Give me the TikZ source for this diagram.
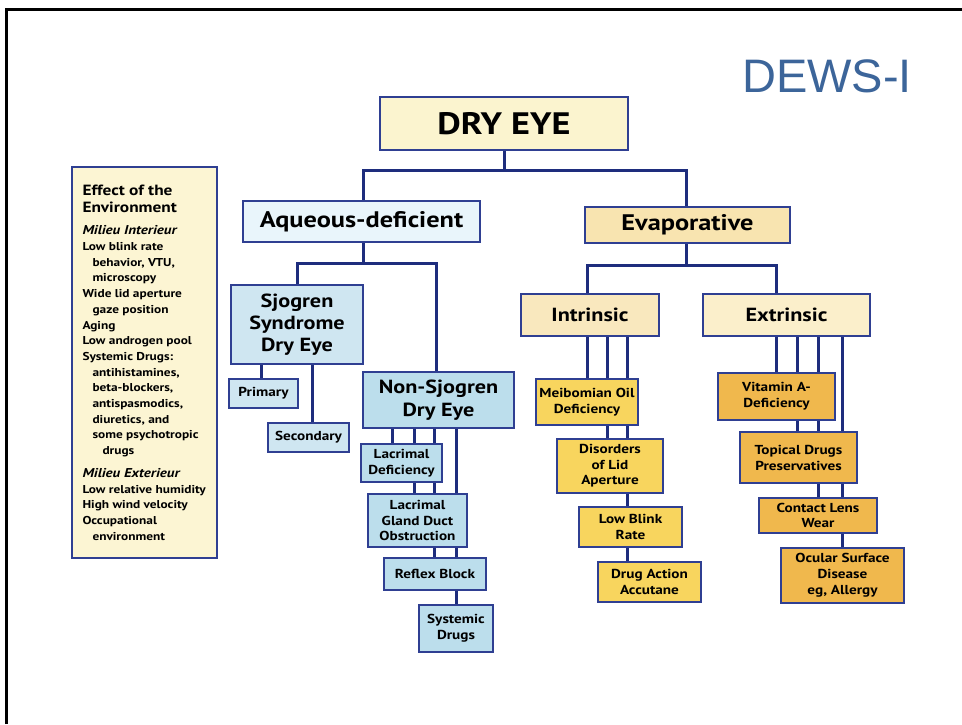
\documentclass[tikz,border=0pt]{standalone}
\usepackage{fontspec}
\setsansfont{PT Sans}[FakeStretch=1.17]
\newfontfamily\dewsfont{Liberation Sans}
\usetikzlibrary{calc}
\pgfdeclarelayer{background}
\pgfsetlayers{background,main}
\definecolor{bord}{HTML}{2F3F92}
\definecolor{conncol}{HTML}{1E2D7D}
\definecolor{dryfill}{HTML}{FBF4CF}
\definecolor{aqfill}{HTML}{E9F5FB}
\definecolor{sjfill}{HTML}{CFE6F1}
\definecolor{bluefill}{HTML}{BCDEEC}
\definecolor{evapfill}{HTML}{F8E4B0}
\definecolor{intrfill}{HTML}{F9E8BE}
\definecolor{extrfill}{HTML}{FBEFCB}
\definecolor{yelfill}{HTML}{F8D55E}
\definecolor{orfill}{HTML}{F0B84D}
\definecolor{envfill}{HTML}{FCF5D3}
\definecolor{dewsblue}{HTML}{3C659A}
\tikzset{
  box/.style={draw=bord, line width=1.4pt, inner sep=0pt, align=center, text=black},
  fs/.style 2 args={font=\sffamily\bfseries\fontsize{#1}{#2}\selectfont},
  conn/.style={draw=conncol, line width=3pt},
}
\begin{document}
\begin{tikzpicture}[x=1pt,y=-1pt]
\useasboundingbox (0,0) rectangle (962,724);
\draw[line width=3pt] (6,724) -- (6,9) -- (962,9);

\node[anchor=base west, text=dewsblue, inner sep=0pt, font=\dewsfont\fontsize{47}{50}\selectfont] (dews) at (742,92) {DEWS-I};

% top levels
\node[box, fill=dryfill, minimum width=248, minimum height=53, fs={31}{36}] (dry) at (504,123.5) {DRY EYE};
\node[box, fill=aqfill, minimum width=237, minimum height=41, fs={22.5}{26}] (aq) at (361.5,221.5) {Aqueous-deficient};
\node[box, fill=evapfill, minimum width=205, minimum height=36, fs={22.5}{26}] (evap) at (687.5,225) {Evaporative};

% aqueous branch
\node[box, fill=sjfill, minimum width=132, minimum height=79, fs={19}{22}] (sj) at (297,324.5) {Sjogren\\Syndrome\\Dry Eye};
\node[box, fill=sjfill, minimum width=69, minimum height=29, fs={13}{16}] (prim) at (263.5,393.5) {Primary};
\node[box, fill=sjfill, minimum width=81, minimum height=29, fs={13}{16}] (sec) at (308.5,437.5) {Secondary};
\node[box, fill=bluefill, minimum width=151, minimum height=56, fs={19}{23}] (nonsj) at (438.5,400) {Non-Sjogren\\Dry Eye};
\node[box, fill=bluefill, minimum width=81, minimum height=38, fs={13}{15.5}] (ld) at (401.5,463) {Lacrimal\\Deficiency};
\node[box, fill=bluefill, minimum width=99, minimum height=53, fs={13}{15.5}] (lgdo) at (417.5,520.5) {Lacrimal\\Gland Duct\\Obstruction};
\node[box, fill=bluefill, minimum width=102, minimum height=32, fs={13}{16}] (rb) at (435,574) {Reflex Block};
\node[box, fill=bluefill, minimum width=74, minimum height=47, fs={13}{16}] (sd) at (456,628.5) {Systemic\\Drugs};

% evaporative branch
\node[box, fill=intrfill, minimum width=138, minimum height=42, fs={19}{22}] (intr) at (590,315) {Intrinsic};
\node[box, fill=extrfill, minimum width=167, minimum height=42, fs={19}{22}] (extr) at (786.5,315) {Extrinsic};
\node[box, fill=yelfill, minimum width=102, minimum height=46, fs={13}{16}] (meib) at (587,402) {Meibomian Oil\\Deficiency};
\node[box, fill=yelfill, minimum width=106, minimum height=54, fs={13}{15.5}] (dis) at (610,466) {Disorders\\of Lid\\Aperture};
\node[box, fill=yelfill, minimum width=103, minimum height=40, fs={13}{16}] (lbr) at (630.5,527) {Low Blink\\Rate};
\node[box, fill=yelfill, minimum width=103, minimum height=40, fs={13}{16}] (drug) at (649.5,582) {Drug Action\\Accutane};
\node[box, fill=orfill, minimum width=117, minimum height=47, fs={13}{16}] (vit) at (776.5,396.5) {Vitamin A-\\Deficiency};
\node[box, fill=orfill, minimum width=117, minimum height=51, fs={13}{16}] (topd) at (798.5,457.5) {Topical Drugs\\Preservatives};
\node[box, fill=orfill, minimum width=118, minimum height=35, fs={13}{15}] (cl) at (818,515.5) {Contact Lens\\Wear};
\node[box, fill=orfill, minimum width=123, minimum height=55, fs={13}{16}] (osd) at (842.5,575.5) {Ocular Surface\\Disease\\eg, Allergy};

% environment box
\node[box, fill=envfill, minimum width=145, minimum height=391, align=left] (env) at (144.5,362.5) {%
\begin{minipage}{124pt}\sffamily\bfseries\raggedright
{\fontsize{14.8}{17}\selectfont Effect of the\\Environment\par}
\vspace{7pt}
\fontsize{11.4}{15.7}\selectfont
{\itshape\fontsize{12.8}{15.7}\selectfont Milieu Interieur\par}
Low blink rate\\
\hspace*{10pt}behavior, VTU,\\
\hspace*{10pt}microscopy\\
Wide lid aperture\\
\hspace*{10pt}gaze position\\
Aging\\
Low androgen pool\\
Systemic Drugs:\\
\hspace*{10pt}antihistamines,\\
\hspace*{10pt}beta-blockers,\\
\hspace*{10pt}antispasmodics,\\
\hspace*{10pt}diuretics, and\\
\hspace*{10pt}some psychotropic\\
\hspace*{20pt}drugs\par
\vspace{7pt}
{\itshape\fontsize{12.8}{15.7}\selectfont Milieu Exterieur\par}
Low relative humidity\\
High wind velocity\\
Occupational\\
\hspace*{10pt}environment\par
\end{minipage}};

\begin{pgfonlayer}{background}
  % level 1
  \coordinate (j0) at (dry.south |- 0,170);
  \draw[conn] (dry.south) -- (j0);
  \draw[conn] (aq.north -| 363,0) |- (j0) -| (evap.north -| 686,0);
  % aqueous
  \coordinate (j1) at (aq.south -| 363,0);
  \draw[conn] (j1) -- (j1 |- 0,263);
  \draw[conn] (sj.north) |- (j1 |- 0,263) -| (nonsj.north -| 436,0);
  \draw[conn] (sj.south -| 261,0) -- (prim.north -| 261,0);
  \draw[conn] (sj.south -| 312,0) -- (sec.north -| 312,0);
  \draw[conn] (nonsj.south -| 392,0) -- (ld.north -| 392,0);
  \draw[conn] (nonsj.south -| 414,0) -- (lgdo.north -| 414,0);
  \draw[conn] (nonsj.south -| 434,0) -- (rb.north -| 434,0);
  \draw[conn] (nonsj.south -| 456,0) -- (sd.north -| 456,0);
  % evaporative
  \coordinate (j2) at (evap.south -| 686,0);
  \draw[conn] (j2) -- (j2 |- 0,265);
  \draw[conn] (intr.north -| 587,0) |- (j2 |- 0,265) -| (extr.north -| 776,0);
  \draw[conn] (intr.south -| 587,0) -- (meib.north -| 587,0);
  \draw[conn] (intr.south -| 607,0) -- (dis.north -| 607,0);
  \draw[conn] (intr.south -| 627,0) -- (drug.north -| 627,0);
  \draw[conn] (extr.south -| 776,0) -- (vit.north -| 776,0);
  \draw[conn] (extr.south -| 797,0) -- (topd.north -| 797,0);
  \draw[conn] (extr.south -| 818,0) -- (cl.north -| 818,0);
  \draw[conn] (extr.south -| 842,0) -- (osd.north -| 842,0);
\end{pgfonlayer}
\end{tikzpicture}
\end{document}
